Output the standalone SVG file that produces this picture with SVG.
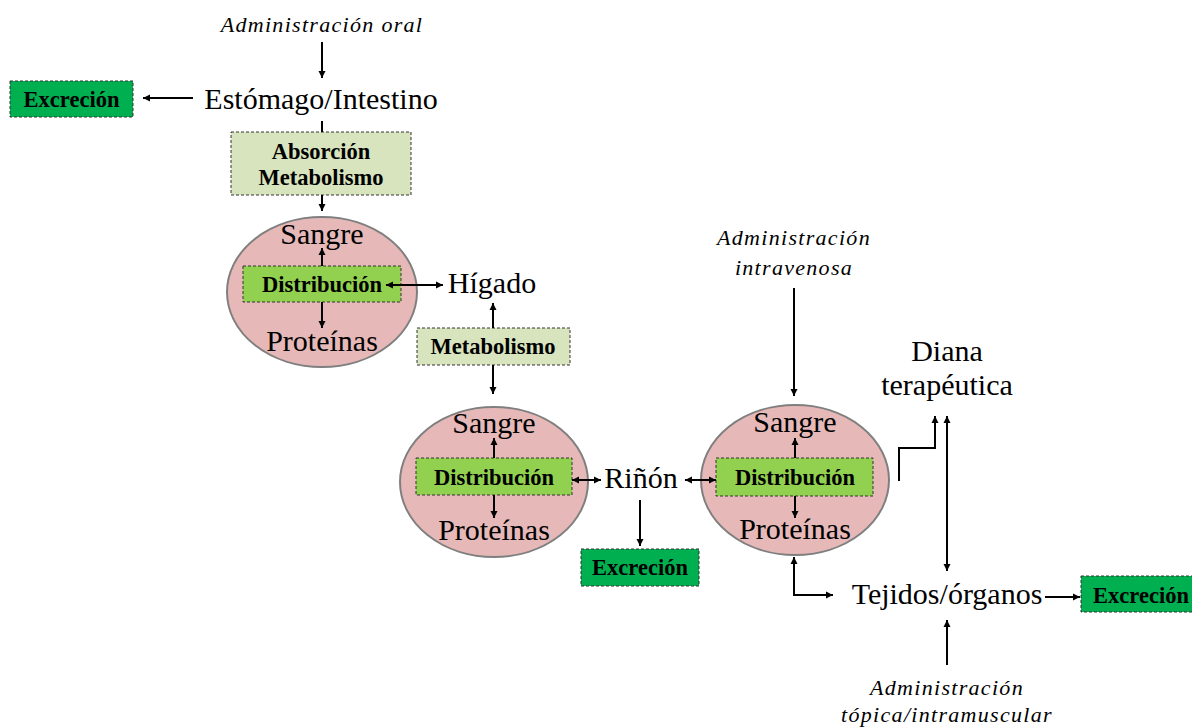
<svg xmlns="http://www.w3.org/2000/svg" width="1192" height="728" viewBox="0 0 1192 728">
<defs>
<marker id="ah" markerWidth="8" markerHeight="8" refX="7" refY="4" orient="auto-start-reverse" markerUnits="userSpaceOnUse">
<path d="M0,0.5 L7,4 L0,7.5 Z" fill="#000"/>
</marker>
<style>
.main{font-family:"Liberation Serif","Times New Roman",serif;font-size:30px;fill:#000;text-anchor:middle}
.it{font-family:"Liberation Serif","Times New Roman",serif;font-size:22px;font-style:italic;letter-spacing:1.3px;fill:#000;text-anchor:middle}
.bx{font-family:"Liberation Serif","Times New Roman",serif;font-size:22.5px;font-weight:bold;fill:#000;text-anchor:middle}
.exc{fill:#00B050;stroke:#333;stroke-width:1;stroke-dasharray:3,2}
.lg{fill:#D7E4BD;stroke:#333;stroke-width:1;stroke-dasharray:3,2}
.dist{fill:#92D050;stroke:#333;stroke-width:1;stroke-dasharray:3,2}
.ell{fill:#E6B9B8;stroke:#7F7F7F;stroke-width:2}
.c{fill:none;stroke:#000;stroke-width:2}
.a{marker-end:url(#ah)}
.aa{marker-start:url(#ah);marker-end:url(#ah)}
</style>
</defs>
<rect width="1192" height="728" fill="#fff"/>

<g id="admin-oral"><text class="it" x="322" y="32">Administración oral</text></g>
<g id="estomago"><text class="main" x="321" y="109">Estómago/Intestino</text></g>
<g id="excrecion1"><rect class="exc" x="10" y="81" width="123" height="36"/><text class="bx" x="71.5" y="107">Excreción</text></g>
<g id="absorcion"><rect class="lg" x="231" y="132" width="180" height="63"/><text class="bx" x="321" y="159">Absorción</text><text class="bx" x="321" y="185">Metabolismo</text></g>

<g id="circ1"><ellipse class="ell" cx="322" cy="292" rx="95" ry="75"/>
<text class="main" x="322" y="244">Sangre</text>
<rect class="dist" x="243" y="266" width="158" height="36"/><text class="bx" x="322" y="292">Distribución</text>
<text class="main" x="322" y="351">Proteínas</text></g>

<g id="higado"><text class="main" x="492" y="293">Hígado</text></g>
<g id="metabolismo"><rect class="lg" x="417" y="328" width="153" height="37"/><text class="bx" x="493" y="354">Metabolismo</text></g>

<g id="circ2"><ellipse class="ell" cx="494" cy="482" rx="94" ry="75"/>
<text class="main" x="494" y="433">Sangre</text>
<rect class="dist" x="416" y="458" width="156" height="37"/><text class="bx" x="494" y="485">Distribución</text>
<text class="main" x="494" y="540">Proteínas</text></g>

<g id="rinon"><text class="main" x="641" y="488">Riñón</text></g>
<g id="excrecion2"><rect class="exc" x="581" y="549" width="118" height="37"/><text class="bx" x="640" y="575">Excreción</text></g>

<g id="admin-iv"><text class="it" x="794" y="245">Administración</text><text class="it" x="794" y="275">intravenosa</text></g>

<g id="circ3"><ellipse class="ell" cx="795" cy="480" rx="94" ry="75"/>
<text class="main" x="795" y="432">Sangre</text>
<rect class="dist" x="716" y="458" width="157" height="38"/><text class="bx" x="795" y="485">Distribución</text>
<text class="main" x="795" y="539">Proteínas</text></g>

<g id="diana"><text class="main" x="947" y="361">Diana</text><text class="main" x="947" y="395">terapéutica</text></g>
<g id="tejidos"><text class="main" x="947" y="604">Tejidos/órganos</text></g>
<g id="excrecion3"><rect class="exc" x="1081" y="576" width="120" height="36"/><text class="bx" x="1141" y="603">Excreción</text></g>
<g id="admin-topica"><text class="it" x="947" y="695">Administración</text><text class="it" x="947" y="722">tópica/intramuscular</text></g>

<g id="connectors">
<line class="c a" x1="322" y1="42" x2="322" y2="78"/>
<line class="c a" x1="193" y1="98" x2="143" y2="98"/>
<line class="c" x1="322" y1="121" x2="322" y2="132"/>
<line class="c a" x1="322" y1="195" x2="322" y2="211"/>
<line class="c a" x1="322" y1="266" x2="322" y2="248"/>
<line class="c a" x1="322" y1="302" x2="322" y2="328"/>
<line class="c aa" x1="386" y1="285" x2="443" y2="285"/>
<line class="c a" x1="493" y1="328" x2="493" y2="303"/>
<line class="c a" x1="493" y1="365" x2="493" y2="394"/>
<line class="c a" x1="494" y1="458" x2="494" y2="438"/>
<line class="c a" x1="494" y1="495" x2="494" y2="518"/>
<line class="c aa" x1="572" y1="480" x2="601" y2="480"/>
<line class="c a" x1="640" y1="500" x2="640" y2="546"/>
<line class="c aa" x1="685" y1="480" x2="716" y2="480"/>
<line class="c a" x1="795" y1="458" x2="795" y2="438"/>
<line class="c a" x1="795" y1="496" x2="795" y2="518"/>
<line class="c a" x1="794" y1="288" x2="794" y2="396"/>
<path class="c a" d="M899,481 V448 H935 V416"/>
<line class="c aa" x1="947" y1="416" x2="947" y2="571"/>
<path class="c aa" d="M794,557 V595 H833"/>
<line class="c a" x1="1045" y1="597" x2="1080" y2="597"/>
<line class="c a" x1="947" y1="665" x2="947" y2="620"/>
</g>
</svg>
